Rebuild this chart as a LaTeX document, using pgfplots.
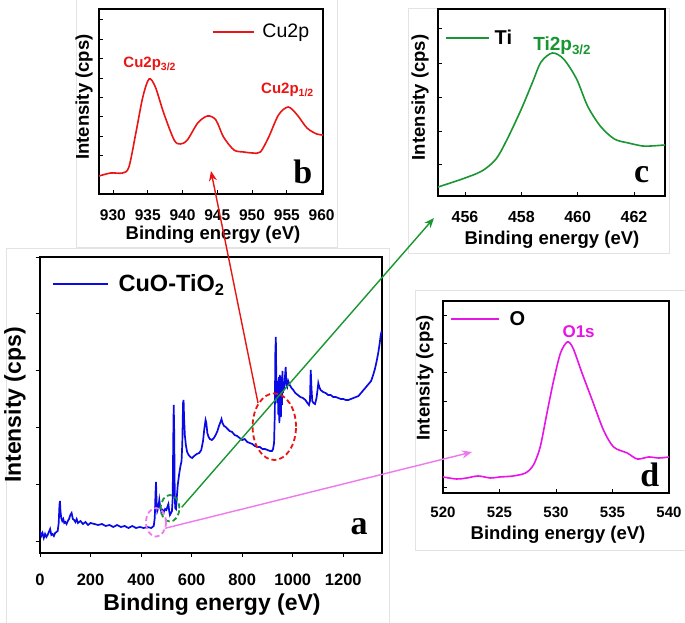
\documentclass[border=0pt]{standalone}
\usepackage{pgfplots}
\pgfplotsset{compat=1.18}
\usetikzlibrary{arrows.meta}
\usepackage{fontspec}
\setmainfont{Liberation Sans}
\newfontfamily\serifb{Liberation Serif}
\definecolor{cblue}{RGB}{10,10,230}
\definecolor{cred}{RGB}{235,20,20}
\definecolor{cgreen}{RGB}{25,150,50}
\definecolor{cmag}{RGB}{230,20,230}
\definecolor{cpink}{RGB}{238,120,238}
\pgfplotsset{
 panel/.style={
  scale only axis, axis line style={black, line width=1.8pt},
  ymin=0, yticklabel=\empty,
  tick style={black, line width=0.8pt},
  major tick length=4pt,
  tick pos=left,
  /pgf/number format/assume math mode=true,
  /pgf/number format/1000 sep={},
  legend style={draw=none, fill=none, inner sep=0pt, outer sep=0pt},
  legend cell align=left,
  label style={font=\fontsize{18.5}{20}\selectfont\bfseries, inner sep=0pt},
 }
}
\begin{document}
\begin{tikzpicture}[x=1pt,y=1pt]
\path[use as bounding box] (0,0) rectangle (685,623);
% background frames
\draw[gray!22, line width=0.7pt, fill=white] (6,-5) rectangle (389,375);
\draw[gray!22, line width=0.7pt, fill=white] (76,376) rectangle (337,630);
\draw[gray!22, line width=0.7pt, fill=white] (408,370) rectangle (669,615);
\draw[gray!22, line width=0.7pt, fill=white] (415,73) rectangle (690,333);

% ---------------- panel a
\begin{axis}[panel, at={(40pt,70pt)}, anchor=south west, width=342pt, height=296pt,
 xmin=0, xmax=1353, ymax=296, xtick={0,200,...,1200}, ytick={12,69,126,183,240,296},
 tick align=outside, axis line style={line width=2.2pt},
 xticklabel style={font=\fontsize{16.5}{18}\selectfont\bfseries, inner sep=0pt, yshift=-16.5pt},
 xlabel={Binding energy (eV)}, ylabel={Intensity (cps)},
 label style={font=\fontsize{23}{26}\selectfont\bfseries},
 xlabel style={at={(axis description cs:0.503,-0.176)}, anchor=center},
 ylabel style={at={(axis description cs:-0.073,0.5)}, anchor=center},
 legend style={at={(axis description cs:0.035,0.909)}, anchor=west, font=\fontsize{23.5}{25}\selectfont\bfseries},
 legend image code/.code={\draw[#1] (0pt,0pt) -- (55pt,0pt); \path (63pt,0pt);},
]
\addplot[cblue, line width=1.7pt] coordinates {
(0,22)(5,17)(10,20)(15,15)(20,19)(25,16)(30,18)(35,21)(40,24)(45,18)(50,19)(55,17)(60,20)(65,21)(70,22)(74,30)(77,48)(79,52)(81,42)(84,35)(88,32)(92,34)(96,30)(100,31)(105,29)(110,32)(115,34)(120,38)(125,40)(130,34)(135,33)(140,31)(145,34)(150,30)(160,32)(170,29)(180,31)(190,28)(200,30)(215,29)(230,28)(245,29)(260,27)(275,28)(290,26)(305,28)(320,26)(335,27)(350,25)(365,27)(380,25)(395,26)(410,25)(425,26)(440,25)(450,27)(454,35)(457,60)(459,71)(461,52)(464,42)(468,45)(472,53)(475,47)(480,41)(485,43)(490,41)(495,44)(500,43)(505,47)(508,49)(511,42)(514,38)(518,40)(522,42)(525,55)(527,110)(529,148)(531,120)(533,60)(535,45)(538,44)(541,55)(545,68)(550,78)(555,86)(560,92)(563,110)(566,150)(568,153)(570,135)(573,118)(577,108)(582,101)(588,98)(595,96)(602,95)(610,97)(620,99)(630,100)(638,103)(645,112)(650,124)(655,133)(658,130)(662,120)(667,116)(672,114)(680,113)(688,115)(695,118)(702,122)(708,127)(714,131)(718,134)(722,130)(728,127)(735,126)(742,124)(750,122)(760,121)(770,118)(780,117)(790,115)(800,113)(810,114)(820,111)(830,110)(840,109)(850,107)(860,106)(870,106)(880,104)(890,104)(900,103)(910,102)(918,102)(922,104)(926,110)(929,140)(931,200)(933,216)(935,170)(937,160)(939,150)(941,172)(943,138)(945,176)(947,130)(949,178)(951,148)(953,136)(955,176)(957,148)(959,182)(961,160)(963,168)(966,166)(969,176)(972,186)(975,168)(978,166)(982,172)(988,168)(995,165)(1002,163)(1010,160)(1020,158)(1030,156)(1040,155)(1050,153)(1058,150)(1064,148)(1068,152)(1071,183)(1074,165)(1077,152)(1082,150)(1088,149)(1094,155)(1098,163)(1101,170)(1105,166)(1110,163)(1120,161)(1130,160)(1140,158)(1150,158)(1160,156)(1170,156)(1180,155)(1190,154)(1200,154)(1210,153)(1220,153)(1230,154)(1240,155)(1250,156)(1260,157)(1270,160)(1280,163)(1290,166)(1300,169)(1310,172)(1318,178)(1325,184)(1332,192)(1338,200)(1343,208)(1348,218)(1352,222)
};
\addlegendentry{CuO-TiO\textsubscript{2}}
\node[font=\serifb\fontsize{34}{34}\selectfont\bfseries] at (axis cs:1262,26) {a};
\end{axis}

% ---------------- panel b
\begin{axis}[panel, at={(99pt,429pt)}, anchor=south west, width=224pt, height=185pt,
 xmin=928, xmax=960.2, ymax=185, xtick={930,935,...,960}, ytick={19,39,58,78,97,116,136,155,175},
 tick align=inside,
 xticklabel style={font=\fontsize{15.5}{17}\selectfont\bfseries, inner sep=0pt, yshift=-15.5pt},
 xlabel={Binding energy (eV)}, ylabel={Intensity (cps)},
 xlabel style={at={(axis description cs:0.509,-0.218)}, anchor=center},
 ylabel style={at={(axis description cs:-0.067,0.524)}, anchor=center},
 legend style={at={(axis description cs:0.504,0.876)}, anchor=west, font=\fontsize{19.5}{21}\selectfont},
 legend image code/.code={\draw[#1] (0pt,0pt) -- (41pt,0pt); \path (47pt,0pt);},
]
\addplot[cred, line width=1.6pt, smooth, tension=0.5] coordinates {
(928,18)(929.7,21)(931.4,21)(932.3,27)(933.3,61)(934.3,97)(935.2,115)(936.1,107)(937.3,81)(938.8,54)(939.7,50)(940.7,54)(942.2,71)(943.6,78)(944.8,74)(945.9,57)(947.4,44)(948.8,42)(950.1,41)(951.2,42)(952.4,57)(953.8,79)(955.2,87)(956.5,79)(957.9,66)(959.3,60)(960.2,59)
};
\addlegendentry{Cu2p}
\node[text=cred, font=\fontsize{15}{16}\selectfont\bfseries] at (axis cs:935.3,130) {Cu2p\textsubscript{3/2}};
\node[text=cred, font=\fontsize{15}{16}\selectfont\bfseries] at (axis cs:955.1,104) {Cu2p\textsubscript{1/2}};
\node[font=\serifb\fontsize{34}{34}\selectfont\bfseries] at (axis cs:957.3,22) {b};
\end{axis}

% ---------------- panel c
\begin{axis}[panel, at={(438pt,427pt)}, anchor=south west, width=227pt, height=187pt,
 xmin=455.04, xmax=463.1, ymax=187, xtick={456,458,460,462}, ytick={32,65,99,133,168},
 tick align=inside,
 xticklabel style={font=\fontsize{16}{17}\selectfont\bfseries, inner sep=0pt, yshift=-15.5pt},
 xlabel={Binding energy (eV)}, ylabel={Intensity (cps)},
 xlabel style={at={(axis description cs:0.502,-0.232)}, anchor=center},
 ylabel style={at={(axis description cs:-0.079,0.527)}, anchor=center},
 legend style={at={(axis description cs:0.031,0.844)}, anchor=west, font=\fontsize{20}{22}\selectfont\bfseries},
 legend image code/.code={\draw[#1] (0pt,0pt) -- (43pt,0pt); \path (46pt,0pt);},
]
\addplot[cgreen, line width=1.6pt, smooth, tension=0.5] coordinates {
(455.04,9)(455.9,17)(456.6,25)(457.1,37)(457.5,57)(458.0,87)(458.4,114)(458.7,134)(459.1,143)(459.5,137)(459.96,117)(460.35,90)(460.8,70)(461.3,57)(461.8,53)(462.3,50)(462.6,50)(463.1,51)
};
\addlegendentry{Ti}
\node[text=cgreen, font=\fontsize{19}{20}\selectfont\bfseries] at (axis cs:459.45,150) {Ti2p\textsubscript{3/2}};
\node[font=\serifb\fontsize{34}{34}\selectfont\bfseries] at (axis cs:462.27,21) {c};
\end{axis}

% ---------------- panel d
\begin{axis}[panel, at={(443pt,130pt)}, anchor=south west, width=226pt, height=192pt,
 xmin=520, xmax=540, ymax=192, xtick={520,525,...,540}, ytick={6,35,63,92,121,150,178},
 tick align=inside,
 xticklabel style={font=\fontsize{15}{17}\selectfont\bfseries, inner sep=0pt, yshift=-14pt},
 xlabel={Binding energy (eV)}, ylabel={Intensity (cps)},
 xlabel style={at={(axis description cs:0.509,-0.219)}, anchor=center},
 ylabel style={at={(axis description cs:-0.08,0.6)}, anchor=center},
 legend style={at={(axis description cs:0.031,0.906)}, anchor=west, font=\fontsize{20}{22}\selectfont\bfseries},
 legend image code/.code={\draw[#1] (0pt,0pt) -- (48pt,0pt); \path (56pt,0pt);},
]
\addplot[cmag, line width=1.6pt, smooth, tension=0.5] coordinates {
(520,16)(521.2,14)(522.1,15)(523.1,17)(524.2,15)(525.0,16)(526.2,17)(527.3,20)(528.0,28)(528.6,46)(529.2,80)(529.8,113)(530.4,140)(531.0,151)(531.5,145)(532.3,120)(533.2,93)(534.2,63)(535.1,46)(536.3,40)(537.2,34)(538.2,36)(539.1,35)(540,36)
};
\addlegendentry{O}
\node[text=cmag, font=\fontsize{17}{18}\selectfont\bfseries] at (axis cs:532.0,161) {O1s};
\node[font=\serifb\fontsize{34}{34}\selectfont\bfseries] at (axis cs:538.3,18) {d};
\end{axis}

% ellipses and arrows
\draw[cred, line width=1.8pt, dash pattern=on 5pt off 3pt] (274.3,196.3) ellipse [x radius=21.7, y radius=33.3];
\draw[cgreen, line width=1.8pt, dash pattern=on 5pt off 3pt] (170,114.7) ellipse [x radius=9.3, y radius=13.3];
\draw[cpink, line width=1.8pt, dash pattern=on 5pt off 3pt] (156,100.7) ellipse [x radius=10, y radius=14.3];
\draw[cred, line width=1.4pt, -{Stealth[length=10pt,width=8pt]}] (258,220) -- (211,452);
\draw[cgreen, line width=1.4pt, -{Stealth[length=10pt,width=8pt]}] (181.7,115.7) -- (434,405);
\draw[cpink, line width=1.4pt, -{Stealth[length=10pt,width=8pt]}] (165,94.7) -- (472,171);
\end{tikzpicture}
\end{document}
